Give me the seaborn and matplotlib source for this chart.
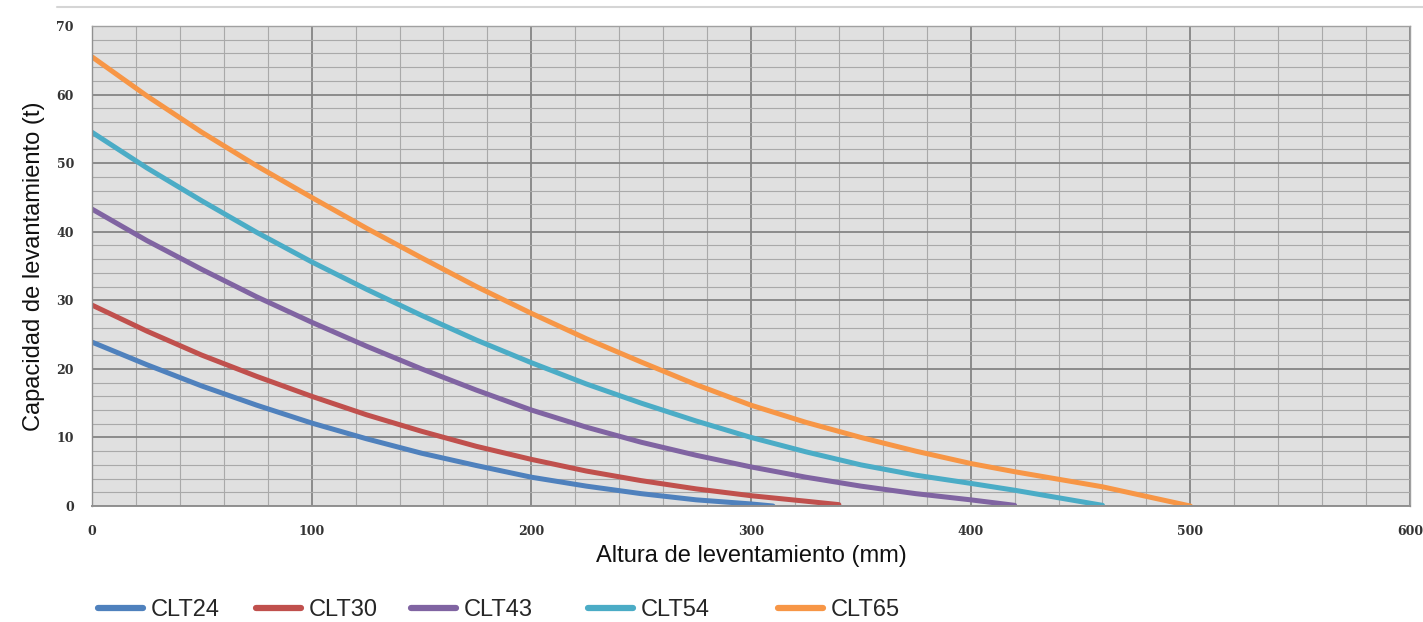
import numpy as np
import pandas as pd
import matplotlib
matplotlib.use("Agg")
import matplotlib.pyplot as plt
from matplotlib.lines import Line2D
from matplotlib.ticker import MultipleLocator
import seaborn as sns

# ---- data ----
clt24_x = [0, 25, 50, 75, 100, 125, 150, 175, 200, 225, 250, 275, 300, 310]
clt24_y = [23.9, 20.6, 17.5, 14.7, 12.1, 9.8, 7.7, 5.9, 4.2, 2.9, 1.8, 0.9, 0.3, 0.0]

clt30_x = [0, 25, 50, 75, 100, 125, 150, 175, 200, 225, 250, 275, 300, 325, 340]
clt30_y = [29.3, 25.5, 22.0, 18.9, 16.0, 13.3, 10.9, 8.7, 6.8, 5.1, 3.7, 2.5, 1.5, 0.7, 0.2]

clt43_x = [0, 25, 50, 75, 100, 125, 150, 175, 200, 225, 250, 275, 300, 325, 350, 375, 400, 420]
clt43_y = [43.3, 38.7, 34.5, 30.5, 26.8, 23.3, 20.0, 16.9, 14.0, 11.5, 9.3, 7.4, 5.7, 4.2, 2.9, 1.8, 0.9, 0.1]

clt54_x = [0, 25, 50, 75, 100, 125, 150, 175, 200, 225, 250, 275, 300, 325, 350, 375, 400, 420, 440, 460]
clt54_y = [54.5, 49.3, 44.5, 39.9, 35.6, 31.6, 27.8, 24.2, 20.9, 17.8, 15.0, 12.4, 10.0, 7.9, 6.0, 4.5, 3.3, 2.3, 1.2, 0.1]

clt65_x = [0, 25, 50, 75, 100, 125, 150, 175, 200, 225, 250, 275, 300, 325, 350, 375, 400, 420, 440, 460, 480, 500]
clt65_y = [65.5, 59.8, 54.5, 49.6, 45.0, 40.5, 36.2, 32.0, 28.1, 24.4, 21.0, 17.7, 14.7, 12.2, 10.0, 8.0, 6.2, 5.0, 3.9, 2.8, 1.4, 0.0]

series_names = ["CLT24", "CLT30", "CLT43", "CLT54", "CLT65"]
colors = ["#4F81BD", "#C0504D", "#8064A2", "#4BACC6", "#F79646"]

x_label = "Altura de leventamiento (mm)"
y_label = "Capacidad de levantamiento (t)"

frames = []
for name, xs, ys in zip(series_names,
                        [clt24_x, clt30_x, clt43_x, clt54_x, clt65_x],
                        [clt24_y, clt30_y, clt43_y, clt54_y, clt65_y]):
    frames.append(pd.DataFrame({"x": xs, "y": ys, "serie": name}))
df = pd.concat(frames, ignore_index=True)

sns.set_style("white")
plt.rcParams['font.family'] = ['Liberation Sans', 'DejaVu Sans']

W, H = 1423, 622
fig = plt.figure(figsize=(W / 100, H / 100), dpi=100)
ax = fig.add_axes([92 / W, 1 - 506 / H, (1410 - 92) / W, (506 - 26) / H])
ax.set_facecolor("#e0e0e0")

ax.set_xlim(0, 600)
ax.set_ylim(0, 70)
ax.xaxis.set_major_locator(MultipleLocator(100))
ax.xaxis.set_minor_locator(MultipleLocator(20))
ax.yaxis.set_major_locator(MultipleLocator(10))
ax.yaxis.set_minor_locator(MultipleLocator(2))
ax.grid(which="major", color="#858585", linewidth=1.3)
ax.grid(which="minor", color="#a9a9a9", linewidth=0.8)
ax.set_axisbelow(True)

sns.lineplot(data=df, x="x", y="y", hue="serie", palette=colors,
             hue_order=series_names, linewidth=3.6, ax=ax, legend=False,
             estimator=None, sort=False)
for ln in ax.get_lines():
    ln.set_solid_capstyle("round")
    ln.set_solid_joinstyle("round")

for s in ["top", "right"]:
    ax.spines[s].set_color("#a0a0a0")
    ax.spines[s].set_linewidth(1.0)
ax.spines["left"].set_color("#909090")
ax.spines["bottom"].set_color("#909090")
ax.spines["left"].set_linewidth(1.0)
ax.spines["bottom"].set_linewidth(1.4)

ax.tick_params(which="both", length=0)
ax.tick_params(axis="x", pad=14)
ax.tick_params(axis="y", pad=13)
for lab in ax.get_xticklabels() + ax.get_yticklabels():
    lab.set_fontfamily("DejaVu Serif")
    lab.set_fontweight("bold")
    lab.set_fontsize(9)
    lab.set_color("#333333")

ax.set_xlabel(x_label, fontsize=17, labelpad=5, color="#111111")
ax.set_ylabel(y_label, fontsize=17, labelpad=8, color="#111111")

legend_x = [98, 256, 411, 588, 778]
for name, c, lx in zip(series_names, colors, legend_x):
    h = Line2D([0], [0], color=c, linewidth=4.5, solid_capstyle="round")
    fig.legend([h], [name], loc="center left", bbox_to_anchor=(lx / W, 1 - 610 / H),
               frameon=False, fontsize=17, handlelength=1.9,
               handletextpad=0.35, borderpad=0, borderaxespad=0)

fig.add_artist(Line2D([0.04, 1.0], [0.988, 0.988], color="#d5d5d5",
                      linewidth=1.5, transform=fig.transFigure))

fig.savefig("out.png", dpi=100, facecolor="white")
